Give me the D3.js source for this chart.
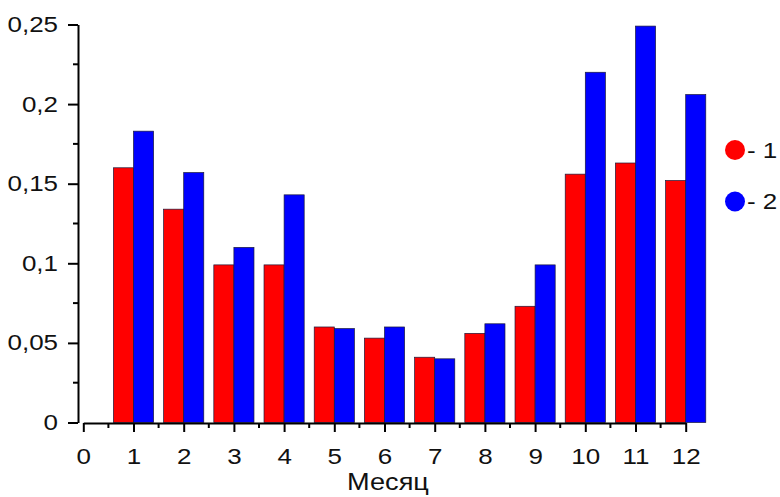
<!DOCTYPE html>
<html>
<head>
<meta charset="utf-8">
<script src="https://cdn.jsdelivr.net/npm/d3@7"></script>
<style>
  html, body { margin: 0; padding: 0; background: #fff; }
  svg { display: block; }
  text { font-family: "Liberation Sans", Arial, sans-serif; fill: #111; }
</style>
</head>
<body>
<svg id="chart" width="780" height="497"></svg>
<script>
const months = [1, 2, 3, 4, 5, 6, 7, 8, 9, 10, 11, 12];
const series1 = [0.160, 0.134, 0.099, 0.099, 0.060, 0.053, 0.041, 0.056, 0.073, 0.156, 0.163, 0.152];
const series2 = [0.183, 0.157, 0.110, 0.143, 0.059, 0.060, 0.040, 0.062, 0.099, 0.220, 0.249, 0.206];
const seriesNames = ["- 1", "- 2"];
const seriesColors = ["#ff0000", "#0000ff"];
const xTicks = [0, 1, 2, 3, 4, 5, 6, 7, 8, 9, 10, 11, 12];
const yTicks = [0, 0.05, 0.1, 0.15, 0.2, 0.25];
const yTickLabels = ["0", "0,05", "0,1", "0,15", "0,2", "0,25"];
const xLabel = "Месяц";

const svg = d3.select("#chart");
const x = d3.scaleLinear().domain([0, 12]).range([83.3, 685.7]);
const y = d3.scaleLinear().domain([0, 0.25]).range([422.5, 24.5]);
const yAxisX = 78;
const barW = 0.4;
const stretch = 1.18;

function widen(sel) {
  sel.attr("transform", function () {
    const ax = +d3.select(this).attr("x") || 0;
    return `translate(${ax},0) scale(${stretch},1) translate(${-ax},0)`;
  });
}

// bars
const data = months.map((m, i) => ({ m, v: [series1[i], series2[i]] }));
const g = svg.append("g");
data.forEach(d => {
  d.v.forEach((v, s) => {
    const x0 = s === 0 ? d.m - barW : d.m;
    g.append("rect")
      .attr("x", x(x0))
      .attr("y", y(v))
      .attr("width", x(x0 + barW) - x(x0))
      .attr("height", y(0) - y(v))
      .attr("fill", seriesColors[s])
      .attr("stroke", "#1a1a3a")
      .attr("stroke-width", 0.7);
  });
});

// y axis
const yAxis = d3.axisLeft(y).tickValues(yTicks).tickFormat((d, i) => yTickLabels[i])
  .tickSize(10).tickSizeOuter(0).tickPadding(10);
const gy = svg.append("g").attr("transform", `translate(${yAxisX},0)`).call(yAxis);
gy.selectAll("path, line").attr("stroke", "#000").attr("stroke-width", 2);
gy.selectAll("text").style("font-size", "22px").attr("fill", "#111").call(widen);
// minor y ticks
const yMinor = d3.range(0.025, 0.25, 0.05);
svg.append("g").selectAll("line").data(yMinor).join("line")
  .attr("x1", yAxisX).attr("x2", yAxisX - 5)
  .attr("y1", d => y(d)).attr("y2", d => y(d))
  .attr("stroke", "#000").attr("stroke-width", 2);

// x axis
const xAxis = d3.axisBottom(x).tickValues(xTicks).tickFormat(d3.format("d"))
  .tickSize(9).tickSizeOuter(0).tickPadding(16);
const gx = svg.append("g").attr("transform", `translate(0,${y(0) + 0.5})`).call(xAxis);
gx.selectAll("path, line").attr("stroke", "#000").attr("stroke-width", 2);
gx.selectAll("text").style("font-size", "22px").attr("fill", "#111").call(widen);
const xMinor = d3.range(0.5, 12, 1);
svg.append("g").selectAll("line").data(xMinor).join("line")
  .attr("x1", d => x(d)).attr("x2", d => x(d))
  .attr("y1", y(0) + 0.5).attr("y2", y(0) + 5.5)
  .attr("stroke", "#000").attr("stroke-width", 2);

// x label
svg.append("text")
  .attr("x", 388).attr("y", 490)
  .attr("text-anchor", "middle")
  .style("font-size", "23px")
  .text(xLabel)
  .call(widen);

// legend
const legend = svg.append("g");
seriesNames.forEach((name, i) => {
  const cy = 150 + i * 51.5;
  legend.append("circle").attr("cx", 735).attr("cy", cy).attr("r", 10)
    .attr("fill", seriesColors[i]);
  legend.append("text").attr("x", 747).attr("y", cy + 8)
    .style("font-size", "22px").text(name).call(widen);
});
</script>
</body>
</html>
